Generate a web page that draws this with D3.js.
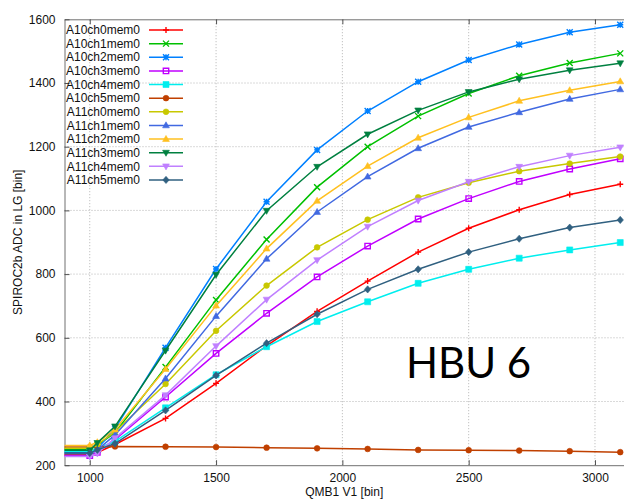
<!DOCTYPE html>
<html>
<head>
<meta charset="utf-8">
<script src="https://cdn.jsdelivr.net/npm/d3@7"></script>
<style>
  body { margin: 0; background: #fff; }
  svg { display: block; font-family: "Liberation Sans", Arial, sans-serif; }
</style>
</head>
<body>
<svg id="chart"></svg>
<script>
// QMB1 V1 settings (x) and the ADC readings of each channel (y)
var qmbBins = [800, 1000, 1030, 1100, 1300, 1500, 1700, 1900, 2100, 2300, 2500, 2700, 2900, 3100];

var a10ch0 = [233, 233, 240, 265, 347, 457, 575, 683, 778, 869, 944, 1002, 1050, 1082];
var a10ch1 = [250, 250, 262, 302, 508, 719, 909, 1073, 1200, 1296, 1367, 1423, 1463, 1493];
var a10ch2 = [241, 241, 252, 315, 569, 816, 1027, 1190, 1312, 1404, 1472, 1521, 1559, 1583];
var a10ch3 = [230, 230, 240, 280, 414, 551, 677, 791, 888, 973, 1037, 1091, 1130, 1162];
var a10ch4 = [244, 244, 252, 275, 380, 484, 572, 651, 713, 771, 815, 850, 876, 899];
var a10ch5 = [257, 257, 258, 259, 258, 257, 255, 253, 251, 248, 247, 246, 244, 241];
var a11ch0 = [253, 253, 265, 305, 455, 622, 764, 884, 971, 1041, 1087, 1123, 1147, 1169];
var a11ch1 = [236, 236, 248, 295, 472, 668, 848, 995, 1106, 1195, 1262, 1308, 1350, 1380];
var a11ch2 = [262, 262, 272, 312, 502, 701, 880, 1030, 1139, 1228, 1292, 1344, 1377, 1405];
var a11ch3 = [247, 247, 270, 322, 560, 798, 999, 1137, 1239, 1314, 1372, 1412, 1440, 1462];
var a11ch4 = [227, 227, 237, 285, 420, 574, 720, 844, 949, 1031, 1090, 1137, 1172, 1198];
var a11ch5 = [238, 238, 248, 268, 372, 482, 583, 674, 752, 815, 869, 911, 946, 970];

var seriesNames = ["A10ch0mem0", "A10ch1mem0", "A10ch2mem0", "A10ch3mem0", "A10ch4mem0", "A10ch5mem0",
  "A11ch0mem0", "A11ch1mem0", "A11ch2mem0", "A11ch3mem0", "A11ch4mem0", "A11ch5mem0"];
var seriesValues = [a10ch0, a10ch1, a10ch2, a10ch3, a10ch4, a10ch5,
  a11ch0, a11ch1, a11ch2, a11ch3, a11ch4, a11ch5];

var xTicks = [1000, 1500, 2000, 2500, 3000];
var yTicks = [200, 400, 600, 800, 1000, 1200, 1400, 1600];

// styles (gnuplot default line colours / point types)
var seriesColors = ["#ff0000", "#00c000", "#0080ff", "#c000ff", "#00eeee", "#c04000",
  "#c8c800", "#4169e1", "#ffc020", "#008040", "#c080ff", "#306080"];
var seriesMarks = ["plus", "cross", "star", "box", "fbox", "circle",
  "circle", "tri", "tri", "itri", "itri", "diamond"];

var width = 624, height = 501;
var plotLeft = 64.5, plotTop = 19.3, plotBottom = 465.2;

var x = d3.scaleLinear().domain([900, 3200]).range([plotLeft, 645.5]);
var y = d3.scaleLinear().domain([200, 1600]).range([plotBottom, plotTop]);

var svg = d3.select("#chart")
  .attr("width", width)
  .attr("height", height);

svg.append("defs").append("clipPath")
  .attr("id", "plotClip")
  .append("rect")
  .attr("x", x(900)).attr("y", y(1600))
  .attr("width", x(3200) - x(900)).attr("height", y(200) - y(1600));

// grid
var grid = svg.append("g").attr("class", "grid")
  .attr("stroke", "#b4b4b4")
  .attr("stroke-width", 1)
  .attr("stroke-dasharray", "1,2");

grid.selectAll(".gx").data(xTicks).enter().append("line")
  .attr("x1", function(d) { return x(d); }).attr("x2", function(d) { return x(d); })
  .attr("y1", y(200)).attr("y2", y(1600));

grid.selectAll(".gy").data(yTicks.slice(1, -1)).enter().append("line")
  .attr("x1", x(900)).attr("x2", x(3200))
  .attr("y1", function(d) { return y(d); }).attr("y2", function(d) { return y(d); });

// axes
function styleAxis(g) {
  g.select(".domain").attr("stroke", "#707070");
  g.selectAll(".tick line").attr("stroke", "#505050");
  g.selectAll(".tick text").attr("fill", "#111").style("font-size", "12px")
    .style("font-family", "'Liberation Sans', Arial, sans-serif");
}

svg.append("g")
  .attr("transform", "translate(0," + y(200) + ")")
  .call(d3.axisBottom(x).tickValues(xTicks).tickFormat(d3.format("d"))
    .tickSizeInner(-5).tickSizeOuter(0).tickPadding(8))
  .call(styleAxis);

svg.append("g")
  .attr("transform", "translate(0," + y(1600) + ")")
  .call(d3.axisTop(x).tickValues(xTicks).tickSizeInner(-5).tickSizeOuter(0).tickFormat(""))
  .call(styleAxis);

svg.append("g")
  .attr("transform", "translate(" + x(900) + ",0)")
  .call(d3.axisLeft(y).tickValues(yTicks).tickFormat(d3.format("d"))
    .tickSizeInner(-5).tickSizeOuter(0).tickPadding(9))
  .call(styleAxis);

// axis titles
svg.append("text")
  .attr("x", (x(900) + 624) / 2)
  .attr("y", 496)
  .attr("text-anchor", "middle")
  .style("font-size", "12px")
  .attr("fill", "#111")
  .text("QMB1 V1 [bin]");

svg.append("text")
  .attr("transform", "translate(22," + (y(900)) + ") rotate(-90)")
  .attr("text-anchor", "middle")
  .style("font-size", "12px")
  .attr("fill", "#111")
  .text("SPIROC2b ADC in LG [bin]");

// marker shapes
function markPath(type) {
  var s = 3;
  switch (type) {
    case "plus": return "M" + -s + ",0H" + s + "M0," + -s + "V" + s;
    case "cross": return "M" + -s + "," + -s + "L" + s + "," + s + "M" + -s + "," + s + "L" + s + "," + -s;
    case "star": return "M" + -s + ",0H" + s + "M0," + -s + "V" + s +
      "M" + -s + "," + -s + "L" + s + "," + s + "M" + -s + "," + s + "L" + s + "," + -s;
    case "box": return "M-2.7,-2.7H2.7V2.7H-2.7Z";
    case "fbox": return "M-3,-3H3V3H-3Z";
    case "circle": return d3.symbol(d3.symbolCircle, 26)();
    case "tri": return "M0,-3.6L3.4,2.4H-3.4Z";
    case "itri": return "M0,3.6L3.4,-2.4H-3.4Z";
    case "diamond": return "M0,-3.6L3.2,0L0,3.6L-3.2,0Z";
  }
}
function isFilled(type) {
  return ["fbox", "circle", "tri", "itri", "diamond"].indexOf(type) >= 0;
}

var line = d3.line()
  .x(function(d) { return x(d.x); })
  .y(function(d) { return y(d.y); });

var series = seriesNames.map(function(name, i) {
  return {
    name: name,
    color: seriesColors[i],
    mark: seriesMarks[i],
    points: qmbBins.map(function(b, j) { return {x: b, y: seriesValues[i][j]}; })
  };
});

var plot = svg.append("g").attr("clip-path", "url(#plotClip)");

var groups = plot.selectAll(".series")
  .data(series)
  .enter().append("g")
    .attr("class", "series");

groups.append("path")
  .attr("d", function(d) { return line(d.points); })
  .attr("fill", "none")
  .attr("stroke", function(d) { return d.color; })
  .attr("stroke-width", 1.5);

groups.each(function(s) {
  d3.select(this).selectAll(".pt")
    .data(s.points)
    .enter().append("path")
      .attr("class", "pt")
      .attr("transform", function(d) { return "translate(" + x(d.x) + "," + y(d.y) + ")"; })
      .attr("d", markPath(s.mark))
      .attr("fill", isFilled(s.mark) ? s.color : "none")
      .attr("stroke", s.color)
      .attr("stroke-width", isFilled(s.mark) ? 0.6 : 1.4);
});

// legend
var legend = svg.append("g").attr("class", "legend");
var rows = legend.selectAll(".row")
  .data(series)
  .enter().append("g")
    .attr("class", "row")
    .attr("transform", function(d, i) { return "translate(0," + (30 + i * 13.63) + ")"; });

rows.append("text")
  .attr("x", 140)
  .attr("dy", "0.35em")
  .attr("text-anchor", "end")
  .style("font-size", "12px")
  .attr("fill", "#111")
  .text(function(d) { return d.name; });

rows.append("line")
  .attr("x1", 149).attr("x2", 183)
  .attr("stroke", function(d) { return d.color; })
  .attr("stroke-width", 1.5);

rows.append("path")
  .attr("transform", "translate(166,0)")
  .attr("d", function(d) { return markPath(d.mark); })
  .attr("fill", function(d) { return isFilled(d.mark) ? d.color : "none"; })
  .attr("stroke", function(d) { return d.color; })
  .attr("stroke-width", function(d) { return isFilled(d.mark) ? 0.6 : 1.4; });

// board label
svg.append("text")
  .attr("x", 406)
  .attr("y", 378)
  .style("font-family", "Lato, 'Open Sans', sans-serif")
  .style("font-size", "42px")
  .attr("fill", "#000")
  .text("HBU 6");
</script>
</body>
</html>
